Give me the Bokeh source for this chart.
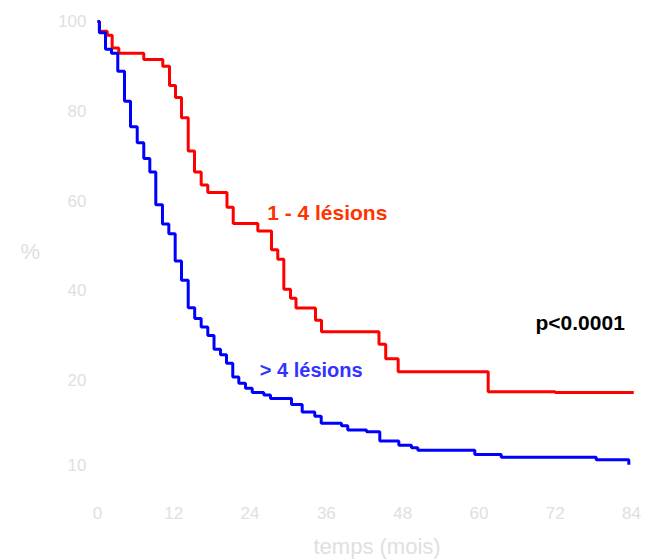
import numpy as np
from bokeh.plotting import figure
from bokeh.models import Range1d, FixedTicker, Label, Title
from bokeh.embed import file_html
from bokeh.resources import INLINE

# Kaplan-Meier curves (months, survival %)
red_t = [0, 0.3, 1.53, 2.31, 3.35, 7.28, 10.27, 11.33, 12.27, 13.21, 14.27, 15.26, 16.31,
         17.35, 20.37, 21.35, 25.22, 27.37, 28.36, 29.31, 30.36, 31.23, 34.29, 35.24,
         44.28, 45.34, 47.30, 61.46, 72.0, 84.36]
red_s = [100, 97.8, 96.9, 94.1, 92.9, 91.5, 90.0, 85.7, 83.0, 78.5, 71.1, 66.4, 63.5,
         61.8, 58.5, 54.9, 53.2, 49.0, 46.9, 40.2, 38.2, 36.0, 33.3, 30.7,
         27.9, 24.7, 21.8, 18.6, 18.5, 18.5]

blue_t = [0, 0.3, 1.26, 2.20, 3.19, 4.25, 5.19, 6.25, 7.28, 8.23, 9.17, 10.22, 11.22,
          12.22, 13.21, 14.27, 15.29, 16.31, 17.35, 18.33, 19.35, 20.29, 21.28, 22.23,
          23.28, 24.34, 26.16, 27.21, 30.52, 32.20, 34.18, 35.19, 38.38, 39.37, 42.32,
          44.41, 47.40, 49.39, 50.39, 59.35, 63.51, 78.45, 83.58]
blue_s = [100, 97.5, 93.8, 92.9, 88.9, 82.2, 76.5, 72.9, 69.4, 66.4, 59.1, 54.8, 52.6,
          46.5, 42.2, 36.1, 33.7, 31.8, 29.9, 26.8, 25.6, 23.7, 20.6, 19.6,
          19.0, 18.5, 18.2, 17.8, 17.1, 16.2, 15.7, 14.9, 14.6, 14.1, 13.9,
          12.8, 12.3, 12.0, 11.7, 11.2, 10.9, 10.6, 10.0]

x_ticks = [0, 12, 24, 36, 48, 60, 72, 84]
y_tick_labels = [10, 20, 40, 60, 80, 100]

# the original axis compresses the 10-20 band
axis_src = [10, 20, 100]
axis_dst = [1, 20, 100]


def to_axis(v):
    return list(np.interp(v, axis_src, axis_dst))


y_tick_pos = to_axis(y_tick_labels)

p = figure(width=644, height=560,
           x_range=Range1d(-0.157, 84.79), y_range=Range1d(-4.51, 102.0),
           output_backend="svg", toolbar_location=None,
           min_border_left=96, min_border_right=8, min_border_top=12, min_border_bottom=70)
p.outline_line_color = None
p.xgrid.grid_line_color = None
p.ygrid.grid_line_color = None
p.background_fill_color = "white"
p.border_fill_color = "white"

tick_col = "#e0e0e0"
for ax in (p.xaxis[0], p.yaxis[0]):
    ax.axis_line_color = None
    ax.major_tick_line_color = None
    ax.minor_tick_line_color = None
    ax.major_tick_out = 0
    ax.major_tick_in = 0
    ax.major_label_text_color = tick_col
    ax.major_label_text_font = "Liberation Sans"
    ax.major_label_text_font_size = "17px"

p.xaxis.ticker = FixedTicker(ticks=x_ticks)
p.xaxis.major_label_standoff = 17
# small blank spacer label under the tick labels
p.xaxis.axis_label = " "
p.xaxis.axis_label_text_font_size = "6px"
p.xaxis.axis_label_standoff = 0

p.yaxis.ticker = FixedTicker(ticks=y_tick_pos)
p.yaxis.major_label_overrides = {y_tick_pos[i]: str(y_tick_labels[i]) for i in range(len(y_tick_labels))}
p.yaxis.major_label_standoff = 10

p.yaxis.axis_label = "%"
p.yaxis.axis_label_orientation = "horizontal"
p.yaxis.axis_label_standoff = 15
p.yaxis.axis_label_text_color = tick_col
p.yaxis.axis_label_text_font = "Liberation Sans"
p.yaxis.axis_label_text_font_size = "22px"
p.yaxis.axis_label_text_font_style = "normal"

p.add_layout(Title(text="temps (mois)", align="left", offset=217, standoff=3,
                   text_color=tick_col, text_font="Liberation Sans",
                   text_font_size="22px", text_font_style="normal"), "below")

p.step(red_t, to_axis(red_s), mode="after", line_color="#ff0000", line_width=3)
p.step(blue_t, to_axis(blue_s), mode="after", line_color="#0000ff", line_width=3)

p.add_layout(Label(x=26.69, y=57.37, text="1 - 4 lésions", text_color="#ff3300",
                   text_font="Liberation Sans", text_font_style="bold",
                   text_font_size="21px", text_baseline="alphabetic"))
p.add_layout(Label(x=25.53, y=22.08, text="> 4 lésions", text_color="#3333ff",
                   text_font="Liberation Sans", text_font_style="bold",
                   text_font_size="20px", text_baseline="alphabetic"))
p.add_layout(Label(x=68.9, y=32.86, text="p<0.0001", text_color="#000000",
                   text_font="Liberation Sans", text_font_style="bold",
                   text_font_size="21px", text_baseline="alphabetic"))

open("out.html", "w").write(file_html(p, INLINE))
